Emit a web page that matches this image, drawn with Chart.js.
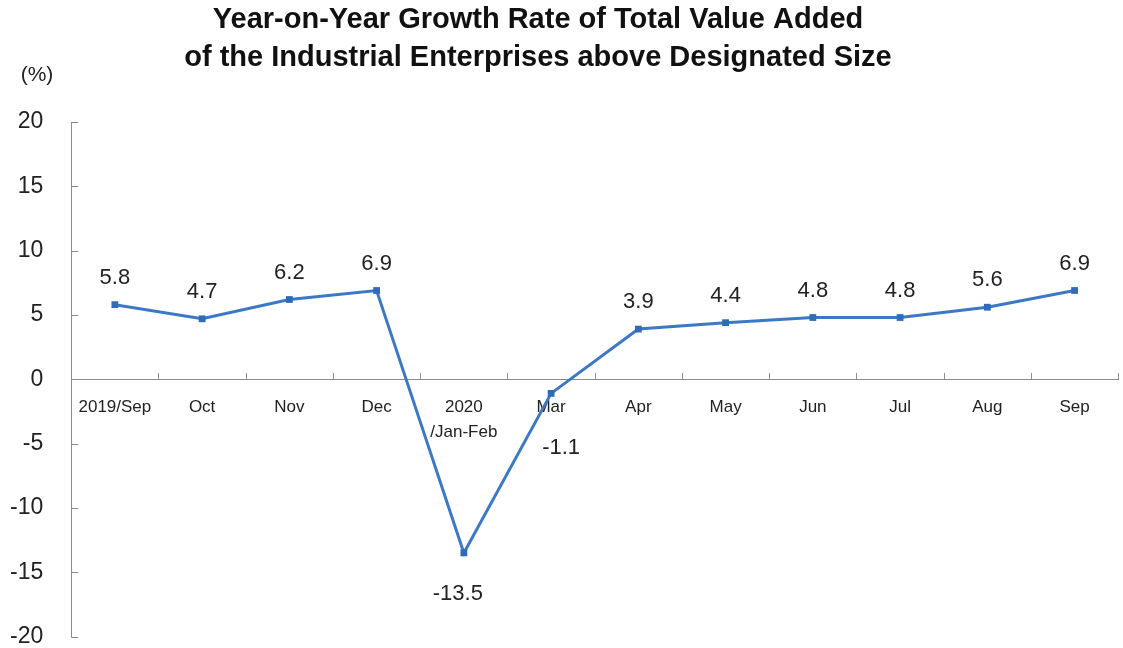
<!DOCTYPE html>
<html>
<head>
<meta charset="utf-8">
<title>Year-on-Year Growth Rate of Total Value Added</title>
<script src="https://cdn.jsdelivr.net/npm/chart.js@4.4.1/dist/chart.umd.min.js"></script>
<style>
  html, body { margin: 0; padding: 0; background: #fff; }
  #wrap { width: 1123px; height: 648px; position: relative; }
</style>
</head>
<body>
<div id="wrap"><canvas id="growthChart"></canvas></div>
<script>
// monthly growth, Sep 2019 - Sep 2020
const months = ['2019/Sep', 'Oct', 'Nov', 'Dec', ['2020', '/Jan-Feb'], 'Mar', 'Apr', 'May', 'Jun', 'Jul', 'Aug', 'Sep'];
const growth = [5.8, 4.7, 6.2, 6.9, -13.5, -1.1, 3.9, 4.4, 4.8, 4.8, 5.6, 6.9];
const yTicks = [20, 15, 10, 5, 0, -5, -10, -15, -20];
const titleLines = ['Year-on-Year Growth Rate of Total Value Added', 'of the Industrial Enterprises above Designated Size'];

const FONT = '"Liberation Sans", Arial, sans-serif';
const AXIS_GREY = '#8c8c8c';

// short tick marks pointing into the plot, like the office-chart style
const innerTicks = {
  id: 'innerTicks',
  afterDraw(chart) {
    const {ctx, scales: {x, y}} = chart;
    const axisY = Math.round(y.getPixelForValue(0));
    ctx.save();
    ctx.strokeStyle = AXIS_GREY;
    ctx.lineWidth = 1;
    ctx.beginPath();
    yTicks.forEach(v => {
      const py = Math.round(y.getPixelForValue(v)) + 0.5;
      ctx.moveTo(x.left, py);
      ctx.lineTo(x.left + 7, py);
    });
    for (let i = 1; i <= months.length; i++) {
      const px = Math.round((x.getPixelForValue(i - 1) + x.getPixelForValue(i)) / 2) + 0.5;
      ctx.moveTo(px, axisY);
      ctx.lineTo(px, axisY - 6);
    }
    ctx.stroke();
    ctx.restore();
  }
};

// value labels above each point (below for the dip)
const pointLabels = {
  id: 'pointLabels',
  afterDatasetsDraw(chart, args, opts) {
    const {ctx} = chart;
    const meta = chart.getDatasetMeta(0);
    ctx.save();
    ctx.font = '22px ' + FONT;
    ctx.fillStyle = '#222';
    ctx.textAlign = 'center';
    ctx.textBaseline = 'middle';
    meta.data.forEach((pt, i) => {
      const v = growth[i];
      const shift = opts.shift[i] || [0, v < 0 ? 41 : -27];
      ctx.fillText(v.toFixed(1), pt.x + shift[0], pt.y + shift[1]);
    });
    ctx.restore();
  }
};

// two-line heading and the unit caption over the value axis
const headings = {
  id: 'headings',
  afterDraw(chart) {
    const {ctx} = chart;
    ctx.save();
    ctx.fillStyle = '#111';
    ctx.textAlign = 'center';
    ctx.textBaseline = 'middle';
    ctx.font = 'bold 29px ' + FONT;
    titleLines.forEach((t, i) => ctx.fillText(t, 538, 20 + i * 38));
    ctx.fillStyle = '#222';
    ctx.font = '21px ' + FONT;
    ctx.fillText('(%)', 37, 75);
    ctx.restore();
  }
};

new Chart(document.getElementById('growthChart'), {
  type: 'line',
  data: {
    labels: months,
    datasets: [{
      data: growth,
      borderColor: '#3b78c6',
      borderWidth: 3,
      pointStyle: 'rect',
      pointRadius: 4.8,
      pointBackgroundColor: '#2f6cb8',
      pointBorderColor: '#2f6cb8',
      pointBorderWidth: 0,
      tension: 0,
      clip: false
    }]
  },
  options: {
    responsive: true,
    maintainAspectRatio: false,
    animation: false,
    layout: { padding: { left: 10, right: 0, top: 122, bottom: 0 } },
    plugins: {
      legend: { display: false },
      tooltip: { enabled: false },
      title: { display: false },
      pointLabels: { shift: { 4: [-6, 41], 5: [10, 55] } }
    },
    scales: {
      x: {
        position: { y: 0 },
        offset: true,
        afterFit(scale) {
          scale.height = 0;
          scale.paddingLeft = 0;
          scale.paddingRight = 0;
        },
        grid: { display: false, tickLength: 0 },
        border: { display: true, color: AXIS_GREY, width: 1 },
        ticks: {
          color: '#222',
          padding: 16,
          maxRotation: 0,
          autoSkip: false,
          font: { family: FONT, size: 17, lineHeight: 1.45 }
        }
      },
      y: {
        min: -20,
        max: 20,
        grid: { display: false, tickLength: 28 },
        border: { display: true, color: AXIS_GREY, width: 1 },
        afterBuildTicks(scale) { scale.ticks = yTicks.map(v => ({ value: v })); },
        ticks: {
          color: '#222',
          padding: 0,
          font: { family: FONT, size: 23, lineHeight: 1 }
        }
      }
    }
  },
  plugins: [innerTicks, pointLabels, headings]
});
</script>
</body>
</html>
